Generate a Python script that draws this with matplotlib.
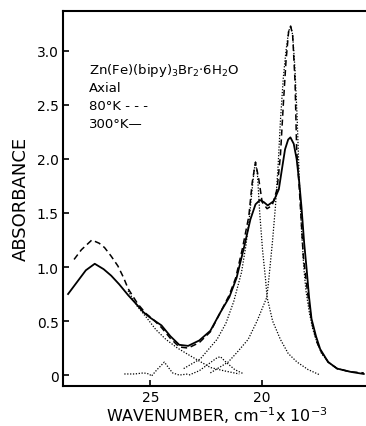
import matplotlib
matplotlib.use("Agg")
import matplotlib.pyplot as plt

# 300 K spectrum (solid)
w_300 = [28.70, 28.30, 27.90, 27.50, 27.10, 26.76, 26.40, 26.00, 25.60, 25.30, 25.00,
         24.50, 24.10, 23.70, 23.30, 22.80, 22.30, 21.85, 21.45, 21.12, 20.80, 20.50,
         20.27, 20.07, 19.89, 19.72, 19.45, 19.22, 19.07, 18.94, 18.80, 18.70, 18.55,
         18.42, 18.30, 18.20, 18.08, 17.97, 17.86, 17.75, 17.55, 17.36, 17.00, 16.60,
         16.00, 15.40]
a_300 = [0.75, 0.86, 0.97, 1.03, 0.98, 0.92, 0.84, 0.74, 0.65, 0.58, 0.53,
         0.46, 0.36, 0.28, 0.27, 0.32, 0.41, 0.58, 0.72, 0.90, 1.17, 1.44,
         1.58, 1.62, 1.60, 1.57, 1.61, 1.72, 1.92, 2.09, 2.18, 2.20, 2.14,
         2.00, 1.78, 1.55, 1.22, 0.98, 0.72, 0.52, 0.36, 0.24, 0.12, 0.06,
         0.03, 0.01]

# 80 K spectrum (dashed)
w_80 = [28.43, 28.10, 27.63, 27.30, 27.06, 26.76, 26.46, 26.20, 26.00, 25.57, 25.20,
        24.90, 24.50, 24.10, 23.70, 23.30, 22.80, 22.30, 21.85, 21.45, 21.16, 20.86,
        20.57, 20.42, 20.27, 20.12, 19.97, 19.75, 19.52, 19.30, 19.15, 19.02, 18.90,
        18.78, 18.69, 18.60, 18.49, 18.42, 18.27, 18.12, 17.92, 17.75, 17.50, 17.30,
        17.00, 16.60, 16.00, 15.40]
a_80 = [1.07, 1.16, 1.25, 1.22, 1.18, 1.10, 1.01, 0.90, 0.80, 0.66, 0.57,
        0.52, 0.44, 0.34, 0.26, 0.25, 0.30, 0.40, 0.58, 0.74, 0.90, 1.17,
        1.47, 1.78, 1.97, 1.81, 1.60, 1.54, 1.57, 1.72, 2.03, 2.50, 2.90,
        3.18, 3.23, 3.15, 2.71, 2.09, 1.63, 1.10, 0.75, 0.50, 0.30, 0.21,
        0.12, 0.06, 0.03, 0.02]

# resolved bands (dotted)
w_b1 = [22.30, 21.50, 21.10, 20.60, 20.20, 19.76, 19.67, 19.50, 19.37, 19.25, 19.15,
        19.02, 18.90, 18.78, 18.69, 18.60, 18.50, 18.40, 18.30, 18.20, 18.10, 18.00,
        17.85, 17.70, 17.50, 17.30, 17.00, 16.60, 16.00]
a_b1 = [0.02, 0.12, 0.21, 0.33, 0.50, 0.72, 0.89, 1.25, 1.57, 1.95, 2.35,
        2.75, 3.00, 3.18, 3.23, 3.15, 2.85, 2.40, 1.80, 1.35, 1.00, 0.78,
        0.58, 0.43, 0.30, 0.20, 0.12, 0.06, 0.03]

w_b2 = [23.50, 22.75, 22.00, 21.60, 21.25, 20.90, 20.70, 20.55, 20.43, 20.33, 20.27,
        20.18, 20.08, 19.95, 19.82, 19.75, 19.50, 19.15, 18.80, 18.40, 17.90, 17.36]
a_b2 = [0.06, 0.15, 0.33, 0.48, 0.68, 0.95, 1.20, 1.45, 1.70, 1.90, 1.97,
        1.85, 1.50, 1.15, 0.89, 0.72, 0.50, 0.33, 0.20, 0.12, 0.05, 0.00]

w_b3 = [26.00, 25.60, 25.20, 24.75, 24.30, 23.78, 23.30, 22.80, 22.30, 21.70, 21.00]
a_b3 = [0.78, 0.64, 0.54, 0.42, 0.33, 0.25, 0.19, 0.13, 0.07, 0.04, 0.01]

w_b4 = [26.17, 25.70, 25.30, 25.05, 24.95, 24.70, 24.37, 24.15, 24.00, 23.70, 23.30]
a_b4 = [0.01, 0.01, 0.02, 0.01, -0.01, 0.05, 0.12, 0.06, 0.02, 0.00, 0.01]

w_b5 = [23.26, 22.80, 22.40, 22.00, 21.85, 21.60, 21.20, 20.79]
a_b5 = [0.00, 0.04, 0.10, 0.16, 0.17, 0.12, 0.05, 0.01]

yticks = [0, 0.5, 1.0, 1.5, 2.0, 2.5, 3.0]
ylabels = ['0', '0.5', '1.0', '1.5', '2.0', '2.5', '3.0']
xticks = [25, 20]

fig = plt.figure(figsize=(3.66, 4.27), dpi=100)
ax = fig.add_axes([0.172, 0.094, 0.828, 0.878])

ax.plot(w_300, a_300, color='black', lw=1.3)
ax.plot(w_80, a_80, color='black', lw=1.1, linestyle=(0, (4, 2.5)))
for w, a in [(w_b1, a_b1), (w_b2, a_b2), (w_b3, a_b3), (w_b4, a_b4), (w_b5, a_b5)]:
    ax.plot(w, a, color='black', lw=0.9, linestyle=(0, (1, 1.3)))

ax.set_xlim(28.93, 15.30)
ax.set_ylim(-0.10, 3.37)
ax.set_yticks(yticks)
ax.set_yticklabels(ylabels)
ax.set_xticks(xticks)
ax.set_xticklabels(['25', '20'])
ax.tick_params(direction='in', length=4, width=1.2, labelsize=10, pad=3)
for s in ['left', 'top', 'bottom']:
    ax.spines[s].set_linewidth(1.5)
ax.spines['right'].set_visible(False)

ax.set_xlabel(r'WAVENUMBER, cm$^{-1}$x 10$^{-3}$', fontsize=11.5)
ax.xaxis.set_label_coords(0.508, -0.05)
ax.set_ylabel('ABSORBANCE', fontsize=13, labelpad=5)

txt = [r'Zn(Fe)(bipy)$_3$Br$_2$$\cdot$6H$_2$O', 'Axial', '80°K - - -', '300°K—']
for i, t in enumerate(txt):
    ax.text(0.087, 0.845 - i * 0.048, t, transform=ax.transAxes, fontsize=9.5, va='center')

fig.savefig('out.png', dpi=100)
